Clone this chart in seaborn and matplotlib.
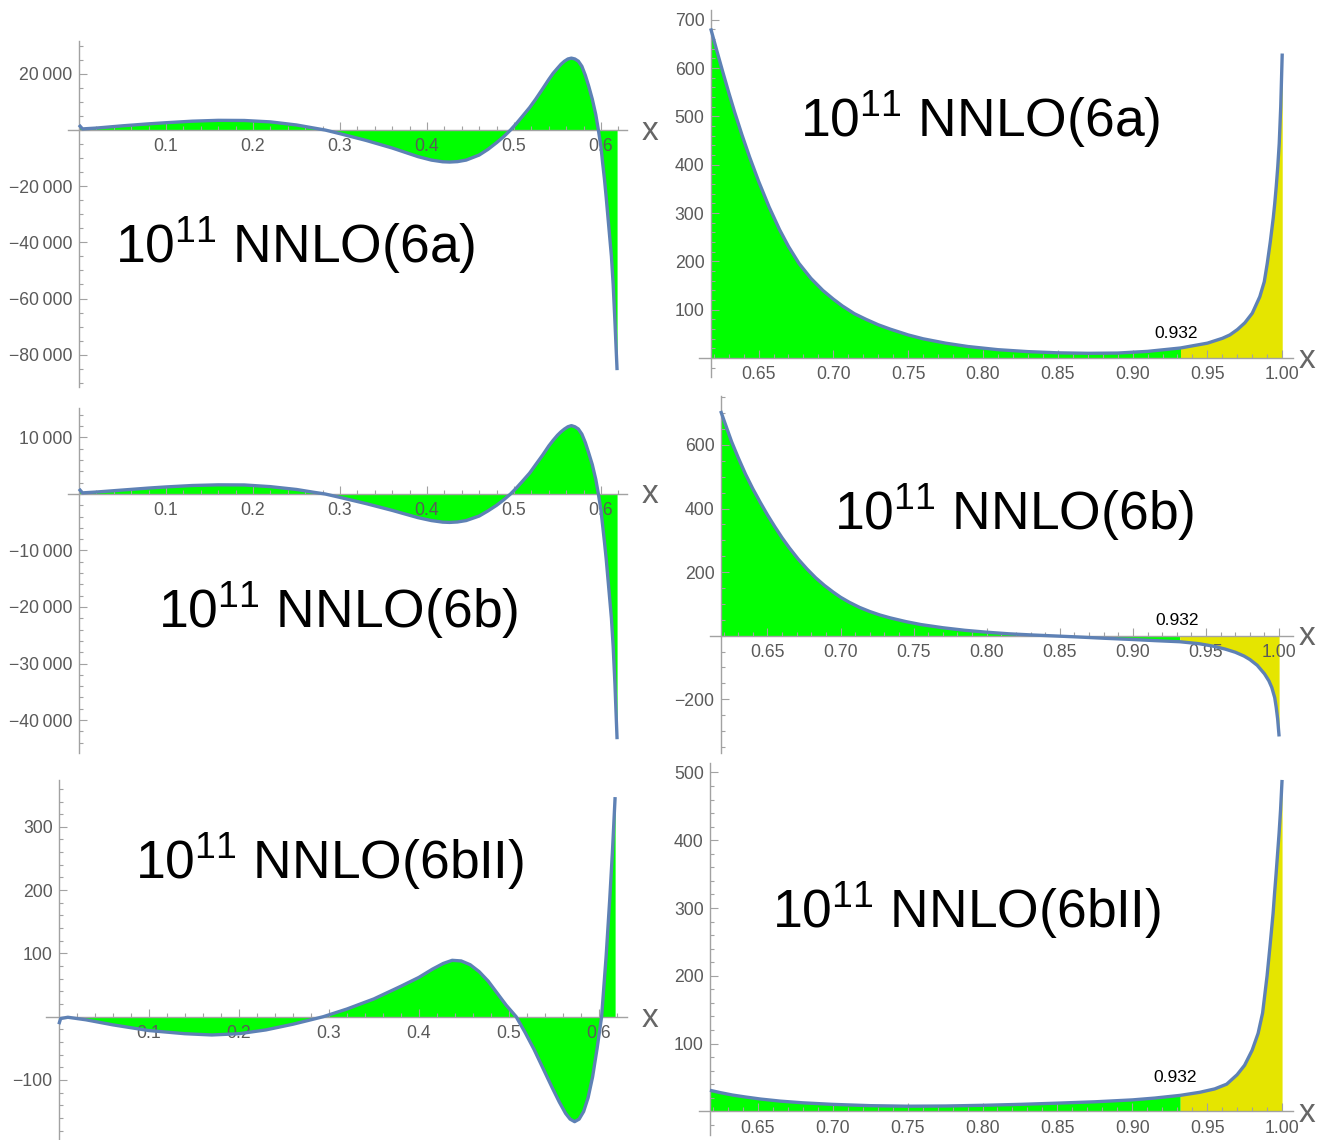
import numpy as np
import pandas as pd
import matplotlib
matplotlib.use("Agg")
import matplotlib.pyplot as plt
from matplotlib.ticker import FixedLocator
import seaborn as sns

# ---------------- data ----------------
# left column: x in [0, 0.618]
a_left_x = [0.0, 0.004, 0.02, 0.05, 0.08, 0.10, 0.13, 0.16, 0.19, 0.22, 0.25, 0.27, 0.283,
            0.30, 0.33, 0.36, 0.39, 0.405, 0.418, 0.426, 0.435, 0.445, 0.46, 0.47, 0.48,
            0.488, 0.496, 0.503, 0.51, 0.518, 0.525, 0.533, 0.54, 0.545, 0.55, 0.554, 0.558,
            0.562, 0.566, 0.570, 0.574, 0.578, 0.582, 0.586, 0.59, 0.594, 0.597, 0.600,
            0.602, 0.604, 0.606, 0.608, 0.61, 0.612, 0.614, 0.616, 0.6185]
a_left_y = [1800, 400, 700, 1500, 2200, 2600, 3150, 3450, 3400, 2900, 1800, 700, 0,
            -1300, -3700, -6400, -9500, -10700, -11300, -11400, -11250, -10700, -8900, -6900, -4500,
            -2400, 0, 2400, 5000, 8000, 11000, 14700, 18000, 20200, 22000, 23400, 24500,
            25300, 25600, 25300, 24500, 22700, 19500, 15500, 11000, 5500, 0, -6000,
            -12000, -17500, -24000, -31000, -38000, -45000, -55000, -68000, -85500]

b_left_x = a_left_x
b_left_y = [900, 200, 350, 700, 1050, 1250, 1500, 1620, 1600, 1300, 800, 300, 0,
            -600, -1700, -2900, -4200, -4700, -4980, -5030, -4950, -4700, -3900, -3000, -2000,
            -1050, 0, 1100, 2300, 3700, 5200, 6900, 8500, 9500, 10400, 11000, 11500,
            11900, 12100, 11900, 11500, 10600, 9100, 7200, 5200, 2600, 0, -2900,
            -5700, -8500, -11500, -15000, -18500, -22000, -27000, -33500, -43400]

bII_left_x = [0.0, 0.002, 0.01, 0.03, 0.06, 0.10, 0.14, 0.17, 0.20, 0.23, 0.26, 0.28, 0.294,
              0.32, 0.35, 0.38, 0.40, 0.415, 0.427, 0.437, 0.447, 0.457, 0.467, 0.477, 0.487,
              0.497, 0.508, 0.518, 0.528, 0.538, 0.548, 0.556, 0.563, 0.568, 0.573, 0.578,
              0.583, 0.588, 0.593, 0.598, 0.603, 0.608, 0.612, 0.615, 0.618]
bII_left_y = [-12, -3, -1, -5, -13, -22, -27, -29, -27, -21, -12, -5, 0,
              12, 28, 48, 62, 75, 84, 89, 88, 82, 71, 56, 37,
              18, 0, -25, -52, -82, -112, -135, -153, -162, -166, -162,
              -150, -128, -95, -50, 0, 95, 185, 260, 347]

# right column: x in [0.618, 1]
a_right_x = [0.618, 0.622, 0.626, 0.630, 0.634, 0.639, 0.644, 0.650, 0.657, 0.664, 0.670,
             0.677, 0.685, 0.693, 0.700, 0.706, 0.714, 0.722, 0.730, 0.738, 0.75, 0.76,
             0.775, 0.79, 0.81, 0.83, 0.85, 0.87, 0.89, 0.91, 0.932, 0.95, 0.96, 0.965,
             0.97, 0.975, 0.98, 0.985, 0.988, 0.99, 0.992, 0.994, 0.995, 0.996, 0.997,
             0.998, 0.999, 1.0]
a_right_y = [682, 637, 593, 550, 509, 461, 416, 366, 313, 266, 231,
             196, 165, 140, 122, 108, 92, 80, 69, 60, 48, 40,
             31, 24, 17.5, 13.5, 11, 10, 10.5, 14, 21, 31, 41, 48,
             59, 73, 93, 127, 158, 196, 240, 290, 320, 355, 395,
             444, 520, 630]

b_right_x = [0.618, 0.622, 0.6255, 0.63, 0.635, 0.64, 0.645, 0.65, 0.655, 0.66, 0.665,
             0.671, 0.677, 0.683, 0.689, 0.695, 0.70, 0.706, 0.713, 0.72, 0.727, 0.734,
             0.745, 0.755, 0.77, 0.785, 0.80, 0.815, 0.83, 0.845, 0.86, 0.88, 0.90,
             0.915, 0.932, 0.945, 0.955, 0.963, 0.97, 0.976, 0.98, 0.985, 0.99, 0.993,
             0.995, 0.997, 0.998, 0.999, 1.0]
b_right_y = [707, 655, 610, 560, 508, 462, 420, 380, 343, 308, 276,
             241, 210, 182, 158, 137, 121, 105, 89, 76, 65, 56,
             44, 35, 25, 17, 11, 6, 2.5, -0.5, -3.5, -8, -12,
             -15.5, -19, -25, -33, -42, -52, -64, -75, -93, -120, -142,
             -163, -195, -225, -262, -317]

bII_right_x = [0.618, 0.625, 0.633, 0.642, 0.652, 0.665, 0.68, 0.70, 0.725, 0.75, 0.775,
               0.80, 0.825, 0.85, 0.875, 0.90, 0.915, 0.932, 0.945, 0.955, 0.963, 0.97,
               0.975, 0.98, 0.984, 0.987, 0.99, 0.992, 0.994, 0.995, 0.996, 0.997, 0.998,
               0.999, 1.0]
bII_right_y = [31, 27.5, 24, 21, 18, 15, 12.5, 10.2, 8.3, 7.5, 7.8,
               8.8, 10.2, 12, 14, 16.8, 19.5, 23.5, 28, 33, 40, 54,
               68, 90, 115, 145, 200, 245, 292, 322, 350, 380, 410,
               445, 489]

split_x = 0.932

# tick values and labels
left_xticks = [0.1, 0.2, 0.3, 0.4, 0.5, 0.6]
left_xticklabels = ["0.1", "0.2", "0.3", "0.4", "0.5", "0.6"]
right_xticks = [0.65, 0.70, 0.75, 0.80, 0.85, 0.90, 0.95, 1.00]
right_xticklabels = ["0.65", "0.70", "0.75", "0.80", "0.85", "0.90", "0.95", "1.00"]

a_left_yticks = [-80000, -60000, -40000, -20000, 20000]
a_left_yticklabels = ["\u221280\u2009000", "\u221260\u2009000", "\u221240\u2009000", "\u221220\u2009000", "20\u2009000"]
b_left_yticks = [-40000, -30000, -20000, -10000, 10000]
b_left_yticklabels = ["\u221240\u2009000", "\u221230\u2009000", "\u221220\u2009000", "\u221210\u2009000", "10\u2009000"]
bII_left_yticks = [-100, 100, 200, 300]
bII_left_yticklabels = ["\u2212100", "100", "200", "300"]
a_right_yticks = [100, 200, 300, 400, 500, 600, 700]
a_right_yticklabels = ["100", "200", "300", "400", "500", "600", "700"]
b_right_yticks = [-200, 200, 400, 600]
b_right_yticklabels = ["\u2212200", "200", "400", "600"]
bII_right_yticks = [100, 200, 300, 400, 500]
bII_right_yticklabels = ["100", "200", "300", "400", "500"]

titles = ["NNLO(6a)", "NNLO(6b)", "NNLO(6bII)"]

# ---------------- style ----------------
sns.set_theme(style="white")
plt.rcParams["font.family"] = ["Liberation Sans", "DejaVu Sans"]
plt.rcParams["mathtext.fontset"] = "custom"
plt.rcParams["mathtext.rm"] = "Liberation Sans"
plt.rcParams["mathtext.it"] = "Liberation Sans:italic"
plt.rcParams["mathtext.bf"] = "Liberation Sans:bold"

LINE = "#5E81B5"
GREEN = "#00FF00"
YELLOW = "#E5E500"
AXC = "#a2a2a2"
LABC = "#5a5a5a"

W, H = 1317, 1140
fig = plt.figure(figsize=(W / 100, H / 100), dpi=100)
fig.patch.set_facecolor("white")


def rect(l, r, t, b):
    return [l / W, 1 - b / H, (r - l) / W, (b - t) / H]


panels = [
    dict(x=a_left_x, y=a_left_y, r=(68, 627, 41, 387), xlim=(-0.01264, 0.6299), ylim=(-91500, 31700),
         x0=0.0, xt=left_xticks, xl=left_xticklabels, xm=0.02, yt=a_left_yticks, yl=a_left_yticklabels,
         ym=5000, split=False, tpos=(115, 263), t=0, xpos=(650, 140), spos=None),
    dict(x=a_right_x, y=a_right_y, r=(699, 1293, 10, 377), xlim=(0.6102, 1.0072), ylim=(-39, 720),
         x0=0.618, xt=right_xticks, xl=right_xticklabels, xm=0.01, yt=a_right_yticks, yl=a_right_yticklabels,
         ym=20, split=True, tpos=(800, 137), t=0, xpos=(1307, 368), spos=(1176, 338)),
    dict(x=b_left_x, y=b_left_y, r=(68, 627, 408, 753), xlim=(-0.01264, 0.6299), ylim=(-45840, 15220),
         x0=0.0, xt=left_xticks, xl=left_xticklabels, xm=0.02, yt=b_left_yticks, yl=b_left_yticklabels,
         ym=2000, split=False, tpos=(158, 628), t=1, xpos=(650, 503), spos=None),
    dict(x=b_right_x, y=b_right_y, r=(710, 1293, 396, 753), xlim=(0.6107, 1.0095), ylim=(-369, 754),
         x0=0.618, xt=right_xticks, xl=right_xticklabels, xm=0.01, yt=b_right_yticks, yl=b_right_yticklabels,
         ym=50, split=True, tpos=(834, 530), t=1, xpos=(1307, 645), spos=(1177, 625)),
    dict(x=bII_left_x, y=bII_left_y, r=(46, 627, 780, 1140), xlim=(-0.0143, 0.6312), ylim=(-195, 374),
         x0=0.0, xt=left_xticks, xl=left_xticklabels, xm=0.02, yt=bII_left_yticks, yl=bII_left_yticklabels,
         ym=20, split=False, tpos=(135, 879), t=2, xpos=(650, 1027), spos=None),
    dict(x=bII_right_x, y=bII_right_y, r=(699, 1293, 763, 1135), xlim=(0.6107, 1.0073), ylim=(-35, 514),
         x0=0.618, xt=right_xticks, xl=right_xticklabels, xm=0.01, yt=bII_right_yticks, yl=bII_right_yticklabels,
         ym=20, split=True, tpos=(772, 928), t=2, xpos=(1307, 1122), spos=(1175, 1082)),
]

for p in panels:
    ax = fig.add_axes(rect(*p["r"]))
    ax.patch.set_alpha(0)
    df = pd.DataFrame({"x": p["x"], "y": p["y"]})
    xs = df["x"].to_numpy()
    ys = df["y"].to_numpy()
    if p["split"]:
        ax.fill_between(xs, ys, 0, where=xs <= split_x + 1e-9, color=GREEN, lw=0, zorder=1)
        ax.fill_between(xs, ys, 0, where=xs >= split_x - 1e-9, color=YELLOW, lw=0, zorder=1)
    else:
        ax.fill_between(xs, ys, 0, color=GREEN, lw=0, zorder=1)
    sns.lineplot(data=df, x="x", y="y", ax=ax, color=LINE, lw=2.4, estimator=None,
                 sort=False, zorder=4, solid_joinstyle="round", solid_capstyle="butt")
    ax.set_xlim(*p["xlim"])
    ax.set_ylim(*p["ylim"])
    ax.set_xlabel("")
    ax.set_ylabel("")
    for s in ["top", "right"]:
        ax.spines[s].set_visible(False)
    ax.spines["left"].set_position(("data", p["x0"]))
    ax.spines["bottom"].set_position(("data", 0))
    for s in ["left", "bottom"]:
        ax.spines[s].set_color(AXC)
        ax.spines[s].set_linewidth(1.0)
        ax.spines[s].set_zorder(2.5)
    ax.set_axisbelow(False)

    ax.set_xticks(p["xt"], labels=p["xl"])
    ax.set_yticks(p["yt"], labels=p["yl"])
    xmin_t = [v for v in np.round(np.arange(np.ceil(p["x0"] / p["xm"]) * p["xm"], p["xlim"][1], p["xm"]), 4)
              if v > p["x0"] + 1e-6]
    ax.xaxis.set_minor_locator(FixedLocator(xmin_t))
    ymin_t = np.arange(np.ceil(p["ylim"][0] / p["ym"]) * p["ym"], p["ylim"][1], p["ym"])
    ax.yaxis.set_minor_locator(FixedLocator(ymin_t))

    ax.tick_params(which="both", direction="in", color=AXC, width=0.8,
                   labelcolor=LABC, labelsize=12.7, bottom=True, left=True)
    ax.tick_params(which="major", length=5.5)
    ax.tick_params(which="minor", length=3)
    ax.tick_params(axis="x", pad=6)
    ax.tick_params(axis="y", pad=4.5)

    fig.text(p["tpos"][0] / W, 1 - p["tpos"][1] / H,
             r"$\mathregular{10^{11}}$ " + titles[p["t"]],
             fontsize=38.5, color="black", ha="left", va="baseline")
    fig.text(p["xpos"][0] / W, 1 - p["xpos"][1] / H, "x",
             fontsize=24, color="#666666", ha="center", va="baseline")
    if p["spos"] is not None:
        fig.text(p["spos"][0] / W, 1 - p["spos"][1] / H, "0.932",
                 fontsize=12.5, color="black", ha="center", va="baseline")

fig.savefig("out.png", dpi=100, facecolor="white")
